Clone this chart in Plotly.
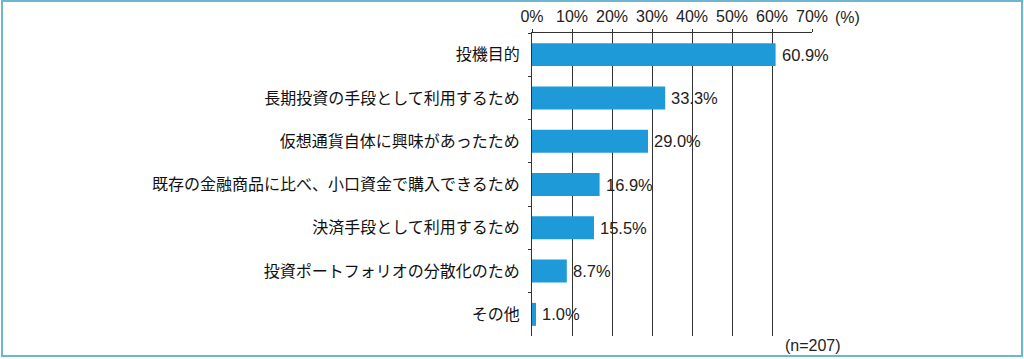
import plotly.graph_objects as go

categories = [
    "投機目的",
    "長期投資の手段として利用するため",
    "仮想通貨自体に興味があったため",
    "既存の金融商品に比べ、小口資金で購入できるため",
    "決済手段として利用するため",
    "投資ポートフォリオの分散化のため",
    "その他",
]
values = [60.9, 33.3, 29.0, 16.9, 15.5, 8.7, 1.0]
value_labels = ["60.9%", "33.3%", "29.0%", "16.9%", "15.5%", "8.7%", "1.0%"]
tick_vals = [0, 10, 20, 30, 40, 50, 60, 70]
tick_text = ["0%", "10%", "20%", "30%", "40%", "50%", "60%", "70%"]

W, H = 1024, 359
L, R, T, B = 532, 812, 33, 336
SANS = "Liberation Sans, Arial"

fig = go.Figure()
fig.add_trace(go.Bar(
    y=categories, x=values, orientation="h",
    marker=dict(color="#1f9ad9", line=dict(width=0)),
    width=0.53, hoverinfo="skip",
))

for c, v, t in zip(categories, values, value_labels):
    fig.add_annotation(x=v, y=c, text=t, showarrow=False, xanchor="left",
                       xshift=4, font=dict(family=SANS, size=16.5, color="#222"))

fig.add_annotation(xref="paper", yref="paper", x=(833 - L) / (R - L), y=(T - 17) / (B - T) + 1,
                   text="(%)", showarrow=False, xanchor="left", yanchor="middle",
                   font=dict(family=SANS, size=16, color="#222"))
fig.add_annotation(xref="paper", yref="paper", x=(813 - L) / (R - L), y=(B - 345) / (B - T),
                   text="(n=207)", showarrow=False, xanchor="center", yanchor="middle",
                   font=dict(family=SANS, size=16, color="#222"))

# outer frame
fig.add_shape(type="rect", xref="paper", yref="paper",
              x0=(2 - L) / (R - L), x1=(1022 - L) / (R - L),
              y0=(B - 356) / (B - T), y1=(B - 1) / (B - T),
              line=dict(color="#6db6cf", width=2), fillcolor="rgba(0,0,0,0)", layer="below")

fig.update_layout(
    width=W, height=H,
    margin=dict(l=L, r=W - R, t=T, b=H - B, pad=0, autoexpand=False),
    paper_bgcolor="white", plot_bgcolor="white",
    showlegend=False,
    xaxis=dict(side="top", range=[0, 70], tickvals=tick_vals, ticktext=tick_text,
               showgrid=True, gridcolor="#333", gridwidth=1,
               showline=True, linecolor="#333", linewidth=1,
               ticks="outside", ticklen=3, tickcolor="#333",
               ticklabelstandoff=1, automargin=False,
               tickfont=dict(family=SANS, size=16, color="#222"),
               zeroline=False, fixedrange=True),
    yaxis=dict(autorange="reversed", showline=True, linecolor="#333", linewidth=1,
               ticks="outside", ticklen=3, tickcolor="#333", tickson="boundaries",
               ticklabelstandoff=8, automargin=False,
               tickfont=dict(family="Noto Sans CJK JP", size=16, color="#111"),
               showgrid=False, zeroline=False, fixedrange=True),
)

fig.write_html("out.html", config={"displayModeBar": False},
               post_script="document.body.style.margin='0';document.body.style.overflow='hidden';")
